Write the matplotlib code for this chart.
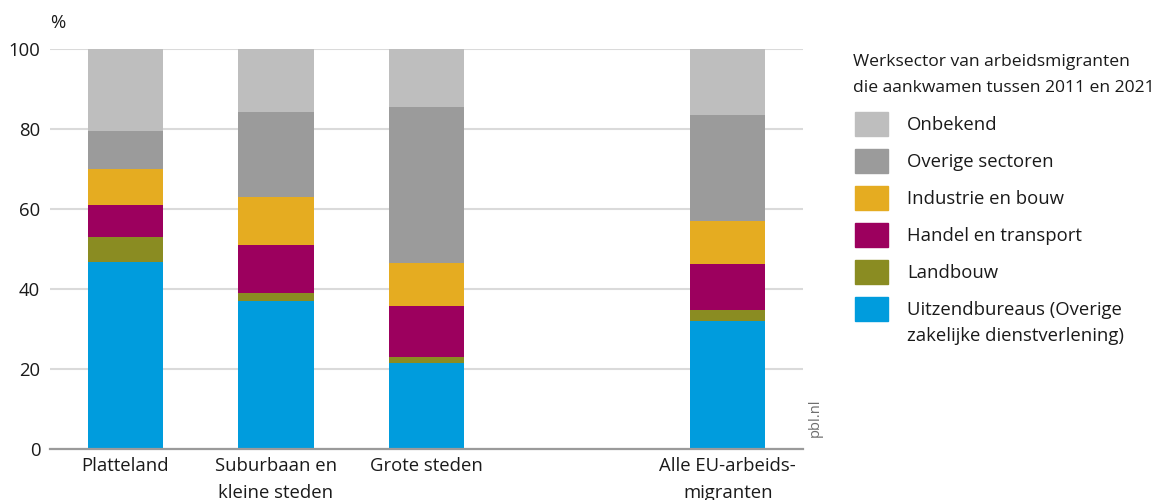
import numpy as np
import matplotlib.pyplot as plt
from matplotlib.patches import Rectangle

plt.rcParams['font.family'] = ['Open Sans', 'DejaVu Sans']

categories = ['Platteland', 'Suburbaan en\nkleine steden', 'Grote steden', 'Alle EU-arbeids-\nmigranten']
positions = [0, 1, 2, 4]

# bottom to top
sectors = ['Uitzendbureaus (Overige\nzakelijke dienstverlening)', 'Landbouw',
           'Handel en transport', 'Industrie en bouw', 'Overige sectoren', 'Onbekend']
uitzend = [46.8, 36.9, 21.5, 32.1]
landbouw = [6.1, 2.0, 1.4, 2.6]
handel = [8.2, 12.0, 12.8, 11.5]
industrie = [8.8, 12.0, 10.8, 10.7]
overig = [9.5, 21.3, 38.9, 26.7]
onbekend = [20.6, 15.8, 14.6, 16.4]
colors = ['#009cdd', '#8a8c22', '#9c005e', '#e5ac21', '#9b9b9b', '#bebebe']

series = [uitzend, landbouw, handel, industrie, overig, onbekend]
txt = '#1a1a1a'
fs = 13.3

fig = plt.figure(figsize=(11.65, 5), dpi=100)
ax = fig.add_axes([50 / 1165, 1 - 449 / 500, 753 / 1165, 400 / 500])

bottom = np.zeros(len(positions))
for vals, c in zip(series, colors):
    ax.bar(positions, vals, bottom=bottom, width=0.5, color=c, zorder=3)
    bottom += np.array(vals)

ax.set_xlim(-0.5, 4.5)
ax.set_ylim(0, 100)
ax.set_yticks([0, 20, 40, 60, 80, 100])
ax.yaxis.grid(True, color='#dadada', lw=1.5, zorder=0)
ax.set_axisbelow(True)
for s in ['top', 'right', 'left']:
    ax.spines[s].set_visible(False)
ax.spines['bottom'].set_color('#9a9a9a')
ax.spines['bottom'].set_linewidth(1.6)
ax.spines['bottom'].set_zorder(4)
ax.set_xticks(positions)
ax.set_xticklabels(categories, fontsize=fs, color=txt, linespacing=1.6)
ax.tick_params(axis='both', length=0, labelsize=fs, labelcolor=txt)
ax.tick_params(axis='x', pad=6)
ax.tick_params(axis='y', pad=7)

fig.text(50 / 1165, 1 - 23 / 500, '%', fontsize=fs, color=txt, ha='left', va='center')
fig.text(815 / 1165, 1 - 418 / 500, 'pbl.nl', fontsize=10.5, color='#6e6e6e',
         rotation=90, ha='center', va='center')

# legend
fig.text(853 / 1165, 1 - 75 / 500, 'Werksector van arbeidsmigranten\ndie aankwamen tussen 2011 en 2021',
         fontsize=12.6, color=txt, ha='left', va='center', linespacing=1.75)
for i, (lab, c) in enumerate(zip(sectors[::-1], colors[::-1])):
    yc = 124 + 37 * i
    fig.add_artist(Rectangle((855 / 1165, 1 - (yc + 12) / 500), 33 / 1165, 24 / 500,
                             transform=fig.transFigure, color=c))
    first, *rest = lab.split('\n')
    fig.text(907 / 1165, 1 - (yc + 6) / 500, first, fontsize=fs, color=txt,
             ha='left', va='baseline')
    for j, line in enumerate(rest, start=1):
        fig.text(907 / 1165, 1 - (yc + 6 + 26 * j) / 500, line, fontsize=fs, color=txt,
                 ha='left', va='baseline')

fig.savefig('out.png', dpi=100)
